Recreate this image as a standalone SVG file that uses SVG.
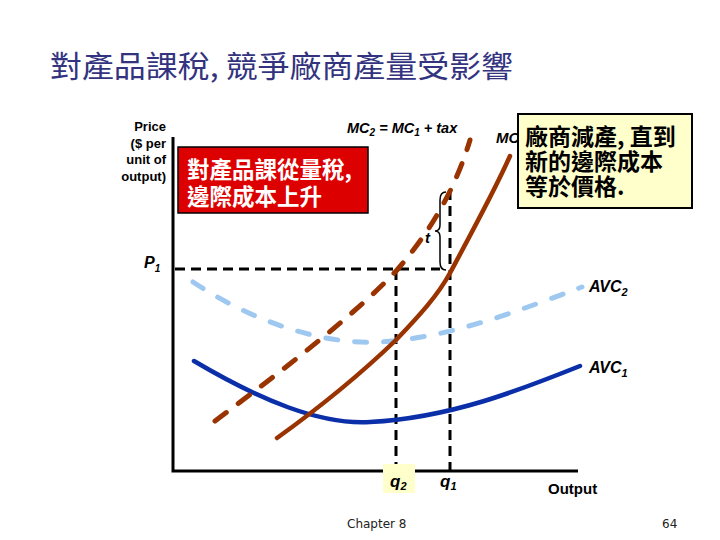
<svg xmlns="http://www.w3.org/2000/svg" width="720" height="540" viewBox="0 0 720 540">
<style>
.cjk{font-family:"Noto Sans CJK TC","Noto Sans CJK SC",sans-serif}
.lbl{font-family:"Liberation Sans",Arial,sans-serif;font-weight:bold}
.it{font-style:italic}
.axis{stroke:#000;stroke-width:3;fill:none}
.guide{stroke:#000;stroke-width:3;stroke-dasharray:10,6;fill:none}
.mc1{stroke:#993300;stroke-width:4.5;fill:none;stroke-linecap:round}
.mc2{stroke:#993300;stroke-width:5;fill:none;stroke-linecap:round;stroke-dasharray:14,15}
.avc1{stroke:#0b2fa8;stroke-width:4.5;fill:none;stroke-linecap:round}
.avc2{stroke:#9ec8f0;stroke-width:5;fill:none;stroke-linecap:round;stroke-dasharray:12,17}
</style>
<rect width="720" height="540" fill="#fff"/>
<text class="cjk" x="50" y="77" font-size="30" fill="#333380" textLength="463" lengthAdjust="spacingAndGlyphs">對產品課稅, 競爭廠商產量受影響</text>

<g id="axes">
<path class="axis" d="M173,137 V471 H578"/>
<text class="lbl" font-size="13" text-anchor="end" x="166" y="131">Price</text>
<text class="lbl" font-size="13" text-anchor="end" x="166" y="148">($ per</text>
<text class="lbl" font-size="13" text-anchor="end" x="166" y="164">unit of</text>
<text class="lbl" font-size="13" text-anchor="end" x="166" y="181">output)</text>
<text class="lbl it" font-size="16" x="144" y="268">P<tspan font-size="10" dy="4">1</tspan></text>
<text class="lbl" font-size="15" x="548" y="494">Output</text>
</g>

<g id="connectors">
<path class="guide" d="M175,269 H440"/>
<path class="guide" d="M396,270 V470"/>
<path class="guide" d="M450,190 V470"/>
<path d="M446,192 Q440,192 440,200 V225 Q440,231 435,231 Q440,231 440,237 V262 Q440,270 446,270" fill="none" stroke="#000" stroke-width="1.5"/>
<text class="lbl it" font-size="15" x="425" y="243">t</text>
</g>

<g id="avc2">
<path class="avc2" d="M193,282 C250,320 320,345 380,342 C450,338 520,310 582,287"/>
<text class="lbl it" font-size="16" x="589" y="292">AVC<tspan font-size="11" dy="4">2</tspan></text>
</g>
<g id="avc1">
<path class="avc1" d="M194,361 C260,400 320,425 370,422 C450,418 520,390 580,366"/>
<text class="lbl it" font-size="16" x="589" y="373">AVC<tspan font-size="11" dy="4">1</tspan></text>
</g>
<g id="mc2">
<path class="mc2" d="M215,421 C290,365 360,310 397,270 C430,232 455,190 470,140"/>
<text class="lbl it" font-size="14.5" x="347" y="133">MC<tspan font-size="10" dy="3">2</tspan><tspan dy="-3"> = MC</tspan><tspan font-size="10" dy="3">1</tspan><tspan dy="-3"> + tax</tspan></text>
</g>
<g id="mc1">
<path class="mc1" d="M277,438 C330,400 370,365 396,340 C420,315 438,295 450,273 C465,245 495,190 510,156"/>
<text class="lbl it" font-size="15" x="496" y="143">MC</text>
</g>

<g id="q-labels">
<rect x="383" y="464" width="32" height="29" fill="#ffffcc"/>
<text class="lbl it" font-size="17" x="390" y="487">q<tspan font-size="11" dy="3">2</tspan></text>
<text class="lbl it" font-size="17" x="440" y="487">q<tspan font-size="11" dy="3">1</tspan></text>
</g>

<g id="note-red">
<rect x="178" y="147" width="190" height="66" fill="#dd0000" stroke="#000" stroke-width="1.5"/>
<text class="cjk" font-size="22.5" font-weight="bold" fill="#fff" x="187" y="178">對產品課從量稅,</text>
<text class="cjk" font-size="22.5" font-weight="bold" fill="#fff" x="187" y="205">邊際成本上升</text>
</g>

<g id="note-yellow">
<rect x="518" y="114" width="174" height="94" fill="#ffffcc" stroke="#000" stroke-width="2"/>
<text class="cjk" font-size="23" font-weight="bold" fill="#000" x="525" y="145">廠商減產, 直到</text>
<text class="cjk" font-size="23" font-weight="bold" fill="#000" x="525" y="170">新的邊際成本</text>
<text class="cjk" font-size="23" font-weight="bold" fill="#000" x="525" y="195">等於價格.</text>
</g>

<g id="footer">
<text font-family="DejaVu Sans, sans-serif" font-size="12" fill="#222" x="347" y="528">Chapter 8</text>
<text font-family="DejaVu Sans, sans-serif" font-size="12" fill="#222" x="662" y="528">64</text>
</g>
</svg>
